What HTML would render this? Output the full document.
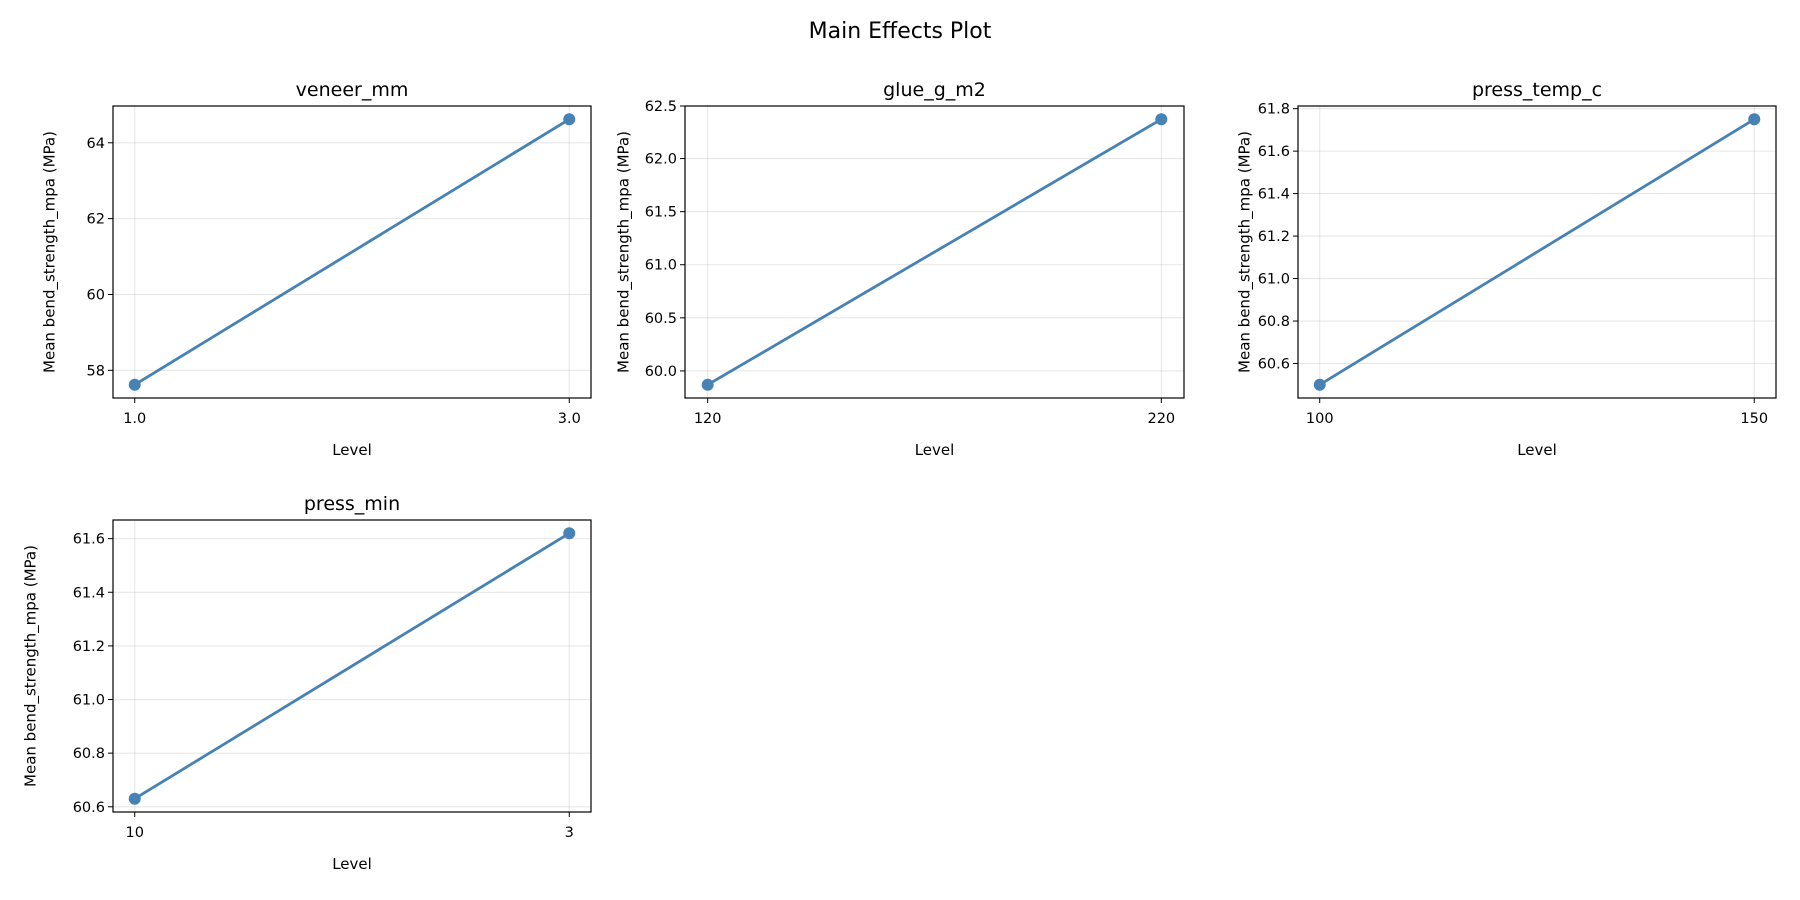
<!DOCTYPE html>
<html><head><meta charset="utf-8">
<style>
html,body{margin:0;padding:0;background:#fff;}
svg{display:block;font-family:"DejaVu Sans","Liberation Sans",sans-serif;}
</style></head>
<body>
<svg id="chart" width="1800" height="900" viewBox="0 0 1800 900">
<text x="900" y="38" text-anchor="middle" font-size="22" fill="#000">Main Effects Plot</text>
</svg>
<script>
const factorNames = ["veneer_mm", "glue_g_m2", "press_temp_c", "press_min"];
const levelLabelsVeneer = ["1.0", "3.0"];
const levelLabelsGlue = ["120", "220"];
const levelLabelsTemp = ["100", "150"];
const levelLabelsMin = ["10", "3"];
const meansVeneer = [57.62, 64.62];
const meansGlue = [59.87, 62.37];
const meansTemp = [60.50, 61.75];
const meansMin = [60.63, 61.62];
const yTicksVeneer = [58, 60, 62, 64];
const yTicksGlue = [60.0, 60.5, 61.0, 61.5, 62.0, 62.5];
const yTicksTemp = [60.6, 60.8, 61.0, 61.2, 61.4, 61.6, 61.8];
const yTicksMin = [60.6, 60.8, 61.0, 61.2, 61.4, 61.6];
const yTickDecimals = [0, 1, 1, 1];

const NS = "http://www.w3.org/2000/svg";
const svg = document.getElementById("chart");
function mk(tag, attrs, parent) {
  const e = document.createElementNS(NS, tag);
  for (const k in attrs) e.setAttribute(k, attrs[k]);
  (parent || svg).appendChild(e);
  return e;
}
const boxes = [
  {l:113, r:591, t:106, b:398, ylx:50},
  {l:685, r:1184, t:106, b:398, ylx:624},
  {l:1298, r:1776, t:106, b:398, ylx:1245},
  {l:113, r:591, t:520, b:812, ylx:31}
];
const allLabels = [levelLabelsVeneer, levelLabelsGlue, levelLabelsTemp, levelLabelsMin];
const allMeans = [meansVeneer, meansGlue, meansTemp, meansMin];
const allTicks = [yTicksVeneer, yTicksGlue, yTicksTemp, yTicksMin];

factorNames.forEach((name, i) => {
  const bx = boxes[i], vals = allMeans[i], labs = allLabels[i], ticks = allTicks[i];
  const g = mk("g", {});
  
  
  const mn = Math.min(...vals), mx = Math.max(...vals), d = (mx - mn) || 1;
  const y0 = mn - 0.05 * d, y1 = mx + 0.05 * d;
  const n = vals.length;
  const x0 = -0.05 * (n - 1), x1 = (n - 1) * 1.05;
  const sx = v => bx.l + (v - x0) / (x1 - x0) * (bx.r - bx.l);
  const sy = v => bx.b - (v - y0) / (y1 - y0) * (bx.b - bx.t);
  ticks.forEach(t => {
    if (t < y0 - 0.01 * d || t > y1 + 0.01 * d) return;
    const y = Math.max(bx.t, Math.min(bx.b, sy(t)));
    const gl = mk("line", {x1:bx.l, x2:bx.r, y1:y, y2:y, stroke:"#b0b0b0", "stroke-opacity":"0.3", "stroke-width":"1.1"}, g);
    
    
    mk("line", {x1:bx.l - 5, x2:bx.l, y1:y, y2:y, stroke:"#000", "stroke-width":"1"}, g);
    const tl = mk("text", {x:bx.l - 8, y:y + 5, "text-anchor":"end", "font-size":"14.5", fill:"#000"}, g);
    tl.textContent = t.toFixed(yTickDecimals[i]);
    
    
  });
  labs.forEach((lab, k) => {
    const x = sx(k);
    const gl = mk("line", {x1:x, x2:x, y1:bx.t, y2:bx.b, stroke:"#b0b0b0", "stroke-opacity":"0.3", "stroke-width":"1.1"}, g);
    
    
    mk("line", {x1:x, x2:x, y1:bx.b, y2:bx.b + 5, stroke:"#000", "stroke-width":"1"}, g);
    const tl = mk("text", {x:x, y:bx.b + 25, "text-anchor":"middle", "font-size":"14.5", fill:"#000"}, g);
    tl.textContent = lab;
    
    
  });
  const pts = vals.map((v, k) => sx(k) + "," + sy(v)).join(" ");
  const pl = mk("polyline", {points:pts, fill:"none", stroke:"#4682b4", "stroke-width":"2.8"}, g);
  
  
  vals.forEach((v, k) => {
    const c = mk("circle", {cx:sx(k), cy:sy(v), r:"6", fill:"#4682b4"}, g);
    
    
  });
  const fr = mk("rect", {x:bx.l, y:bx.t, width:bx.r - bx.l, height:bx.b - bx.t, fill:"none", stroke:"#000", "stroke-width":"1.2"}, g);
  
  
  const tt = mk("text", {x:(bx.l + bx.r) / 2, y:bx.t - 10, "text-anchor":"middle", "font-size":"19", fill:"#000"}, g);
  tt.textContent = name;
  
  
  const xl = mk("text", {x:(bx.l + bx.r) / 2, y:bx.b + 57, "text-anchor":"middle", "font-size":"15", fill:"#000"}, g);
  xl.textContent = "Level";
  
  
  const cy = (bx.t + bx.b) / 2;
  const yl = mk("text", {x:bx.ylx, y:cy, "text-anchor":"middle", "font-size":"15", fill:"#000", transform:"rotate(-90 " + bx.ylx + " " + cy + ")", "dominant-baseline":"middle"}, g);
  yl.textContent = "Mean bend_strength_mpa (MPa)";
  
  
});
</script>
</body></html>
